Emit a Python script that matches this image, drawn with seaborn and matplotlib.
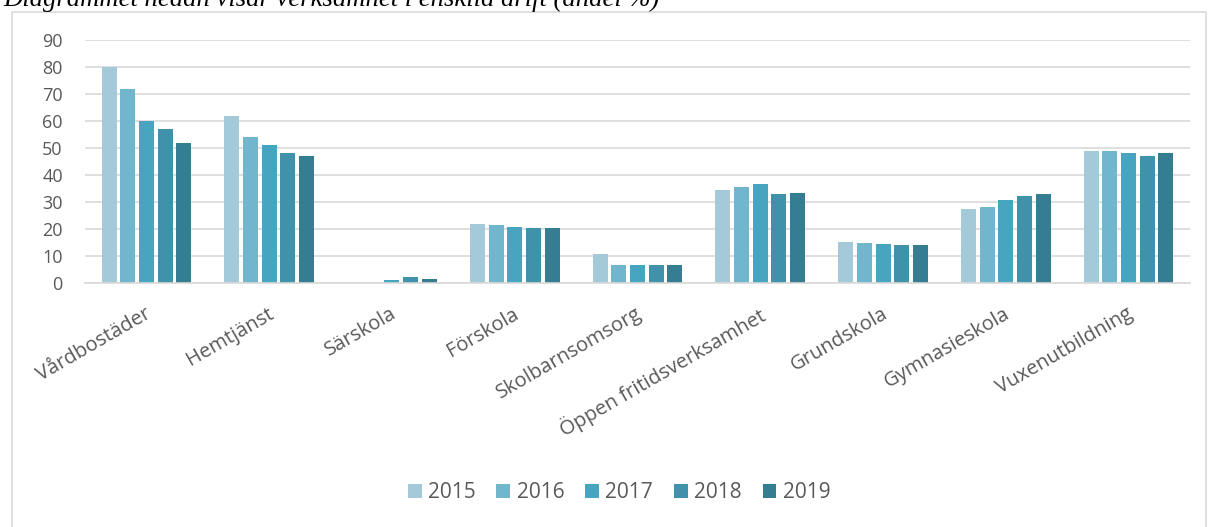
import matplotlib
matplotlib.use("Agg")
import matplotlib.pyplot as plt
import matplotlib.transforms as mtransforms
import seaborn as sns
import pandas as pd
from matplotlib.patches import Rectangle

categories = ["Vårdbostäder", "Hemtjänst", "Särskola", "Förskola", "Skolbarnsomsorg",
              "Öppen fritidsverksamhet", "Grundskola", "Gymnasieskola", "Vuxenutbildning"]
years = ["2015", "2016", "2017", "2018", "2019"]
v2015 = [80, 62, 0, 21.8, 10.9, 34.6, 15.1, 27.3, 48.9]
v2016 = [72, 54, 0, 21.5, 6.8, 35.7, 14.8, 28.1, 48.9]
v2017 = [60, 51, 1.2, 20.6, 6.8, 36.5, 14.5, 30.9, 48.1]
v2018 = [57, 48, 2.2, 20.4, 6.8, 32.9, 14.1, 32.1, 47.0]
v2019 = [52, 47, 1.6, 20.3, 6.8, 33.5, 14.2, 33.0, 48.1]
yticks = [0, 10, 20, 30, 40, 50, 60, 70, 80, 90]
title = "Diagrammet nedan visar verksamhet i enskild drift (andel %)"

colors = ["#A4CADA", "#72B6CD", "#48A5BF", "#3F92A9", "#357D91"]

rows = []
for y, vals in zip(years, [v2015, v2016, v2017, v2018, v2019]):
    for c, v in zip(categories, vals):
        rows.append({"cat": c, "year": y, "val": v})
df = pd.DataFrame(rows)

sns.set_theme(style="white")
plt.rcParams['font.family'] = ['Open Sans', 'DejaVu Sans']

W, H = 1209, 527
fig = plt.figure(figsize=(W / 100, H / 100), dpi=100)
ax = fig.add_axes([85 / W, 1 - 283 / H, (1190 - 85) / W, (283 - 40) / H])

sns.barplot(data=df, x="cat", y="val", hue="year", order=categories, hue_order=years,
            palette=colors, width=0.76, gap=0.2, ax=ax, saturation=1,
            edgecolor="none", linewidth=0, legend=True)

ax.set_ylim(0, 90)
ax.set_xlim(-0.5, len(categories) - 0.5)
ax.set_yticks(yticks)
ax.set_yticklabels([str(t) for t in yticks], fontsize=13, color="#595959")
ax.yaxis.grid(True, color="#D9D9D9", linewidth=1.2)
ax.set_axisbelow(True)
for s in ["top", "right", "left"]:
    ax.spines[s].set_visible(False)
ax.spines["bottom"].set_color("#D9D9D9")
ax.spines["bottom"].set_linewidth(1.2)
ax.tick_params(axis="both", length=0)
ax.tick_params(axis="y", pad=16)
ax.set_xlabel("")
ax.set_ylabel("")
ax.set_xticks(range(len(categories)))
ax.set_xticklabels(categories, rotation=30, ha="right", va="top",
                   rotation_mode="anchor", fontsize=14.5, color="#595959")
ax.tick_params(axis="x", pad=15)
offset = mtransforms.ScaledTranslation(-2 / 100, 0, fig.dpi_scale_trans)
for lab in ax.get_xticklabels():
    lab.set_transform(lab.get_transform() + offset)

handles, labels = ax.get_legend_handles_labels()
ax.legend_.remove()
fig.legend(handles, labels, loc="center", bbox_to_anchor=(619 / W, 1 - 493 / H),
           ncol=5, frameon=False, fontsize=15, labelcolor="#595959",
           handlelength=0.67, handleheight=0.67, handletextpad=0.3, columnspacing=1.0)

fig.patches.append(Rectangle((12 / W, -0.05), (1206 - 12) / W, 1.05 - 12 / H,
                             transform=fig.transFigure, fill=False,
                             edgecolor="#D9D9D9", linewidth=1.2, zorder=0))

fig.text(3 / W, 1 - 6 / H, title, fontsize=19.2, family="Liberation Serif",
         style="italic", color="black", ha="left", va="baseline")

fig.savefig("out.png", dpi=100)
